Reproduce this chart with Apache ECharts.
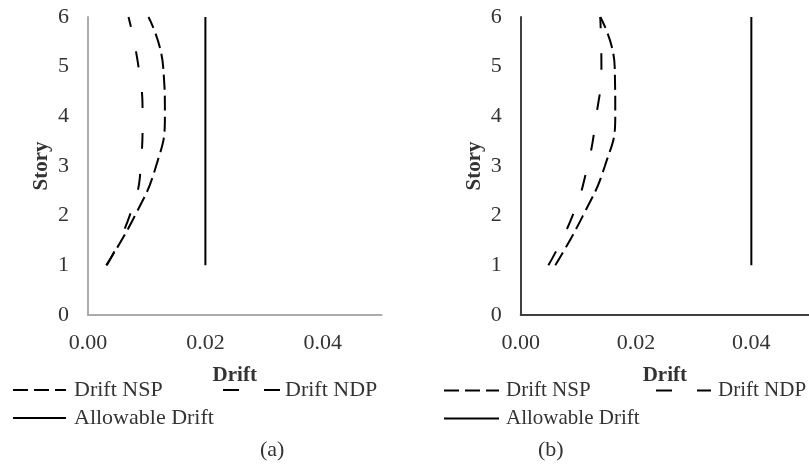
<!DOCTYPE html>
<html>
<head>
<meta charset="utf-8">
<script src="https://cdn.jsdelivr.net/npm/echarts@6/dist/echarts.min.js"></script>
<style>
html,body{margin:0;padding:0;background:#fff;}
#c{width:809px;height:468px;}
</style>
</head>
<body>
<div id="c"></div>
<script>
// Story levels
const stories = [1, 2, 3, 4, 5, 6];
// Panel (a)
const nspA = [0.0031, 0.0080, 0.0116, 0.0131, 0.0128, 0.0103];
const ndpA = [0.0032, 0.0071, 0.0090, 0.0093, 0.0086, 0.0069];
const allowA = [0.02, 0.02, 0.02, 0.02, 0.02, 0.02];
// Panel (b)
const nspB = [0.0060, 0.0108, 0.0146, 0.0164, 0.0163, 0.0138];
const ndpB = [0.0048, 0.0090, 0.0116, 0.0131, 0.0140, 0.0138];
const allowB = [0.04, 0.04, 0.04, 0.04, 0.04, 0.04];
// Axis ticks
const xTicks = { min: 0, max: 0.05, interval: 0.02 };
const yTicks = { min: 0, max: 6, interval: 1 };

const FONT = '"Liberation Serif", "Times New Roman", serif';
const TXT = '#333';

function pts(xs) { return xs.map((x, i) => [x, stories[i]]); }

const NSP_DASH = [15, 6];
const NDP_DASH = [16, 25];

function mkSeries(name, data, idx, dash, smooth) {
  return {
    name: name, type: 'line', xAxisIndex: idx, yAxisIndex: idx,
    data: pts(data), smooth: smooth, symbol: 'none', showSymbol: false,
    silent: true, animation: false,
    lineStyle: { color: '#000', width: 2, type: dash },
    itemStyle: { color: '#000' }
  };
}

function xAxis(idx, color) {
  return {
    gridIndex: idx, type: 'value', min: xTicks.min, max: xTicks.max, interval: xTicks.interval,
    name: 'Drift', nameLocation: 'middle', nameGap: 50,
    nameTextStyle: { fontFamily: FONT, fontSize: 21, fontWeight: 'bold', color: TXT },
    axisLine: { show: true, onZero: false, lineStyle: { color: color, width: 2 } },
    axisTick: { show: false }, splitLine: { show: false },
    axisLabel: { fontFamily: FONT, fontSize: 22, color: TXT, margin: 17, showMaxLabel: false,
      formatter: v => (Math.abs(v / xTicks.interval - Math.round(v / xTicks.interval)) < 1e-6 ? v.toFixed(2) : '') }
  };
}
function yAxis(idx, color) {
  return {
    gridIndex: idx, type: 'value', min: yTicks.min, max: yTicks.max, interval: yTicks.interval,
    name: 'Story', nameLocation: 'middle', nameGap: 36, nameRotate: 90,
    nameTextStyle: { fontFamily: FONT, fontSize: 21, fontWeight: 'bold', color: TXT },
    axisLine: { show: true, onZero: false, lineStyle: { color: color, width: 2 } },
    axisTick: { show: false }, splitLine: { show: false },
    axisLabel: { fontFamily: FONT, fontSize: 22, color: TXT, margin: 19 }
  };
}
function legend(name, left, top, w, pad, fs) {
  return {
    data: [name], left: left, top: top, orient: 'horizontal',
    itemWidth: w, itemHeight: 12, itemGap: 6, selectedMode: false,
    itemStyle: { opacity: 0, color: 'transparent', borderColor: 'transparent', borderWidth: 0 },
    textStyle: { fontFamily: FONT, fontSize: fs, color: TXT, padding: [0, 0, 0, pad] },
    padding: 0
  };
}

const chart = echarts.init(document.getElementById('c'), null, { renderer: 'canvas' });
chart.setOption({
  animation: false,
  backgroundColor: '#fff',
  grid: [
    { left: 88, top: 17, width: 293.5, height: 298 },
    { left: 520.7, top: 17, width: 293.5, height: 298 }
  ],
  xAxis: [xAxis(0, '#ababab'), xAxis(1, '#404040')],
  yAxis: [yAxis(0, '#ababab'), yAxis(1, '#404040')],
  legend: [
    legend('Drift NSP', 12, 379, 53, 3, 22),
    legend('Drift NDP', 222, 379, 57, 0, 22),
    legend('Allowable Drift', 12, 407, 53, 3, 22),
    legend('Drift NSP', 443, 380, 55, 2, 21),
    legend('Drift NDP', 655, 380, 55, 2, 21),
    legend('Allowable Drift', 443, 408, 55, 2, 21)
  ],
  graphic: [
    { type: 'text', left: 260, top: 439, style: { text: '(a)', font: '22px ' + FONT, fill: TXT } },
    { type: 'text', left: 538, top: 439, style: { text: '(b)', font: '22px ' + FONT, fill: TXT } }
  ],
  series: [
    mkSeries('Drift NSP', nspA, 0, NSP_DASH, true),
    mkSeries('Drift NDP', ndpA, 0, NDP_DASH, true),
    mkSeries('Allowable Drift', allowA, 0, 'solid', false),
    mkSeries('Drift NSP', nspB, 1, NSP_DASH, true),
    mkSeries('Drift NDP', ndpB, 1, NDP_DASH, true),
    mkSeries('Allowable Drift', allowB, 1, 'solid', false)
  ]
});
</script>
</body>
</html>
